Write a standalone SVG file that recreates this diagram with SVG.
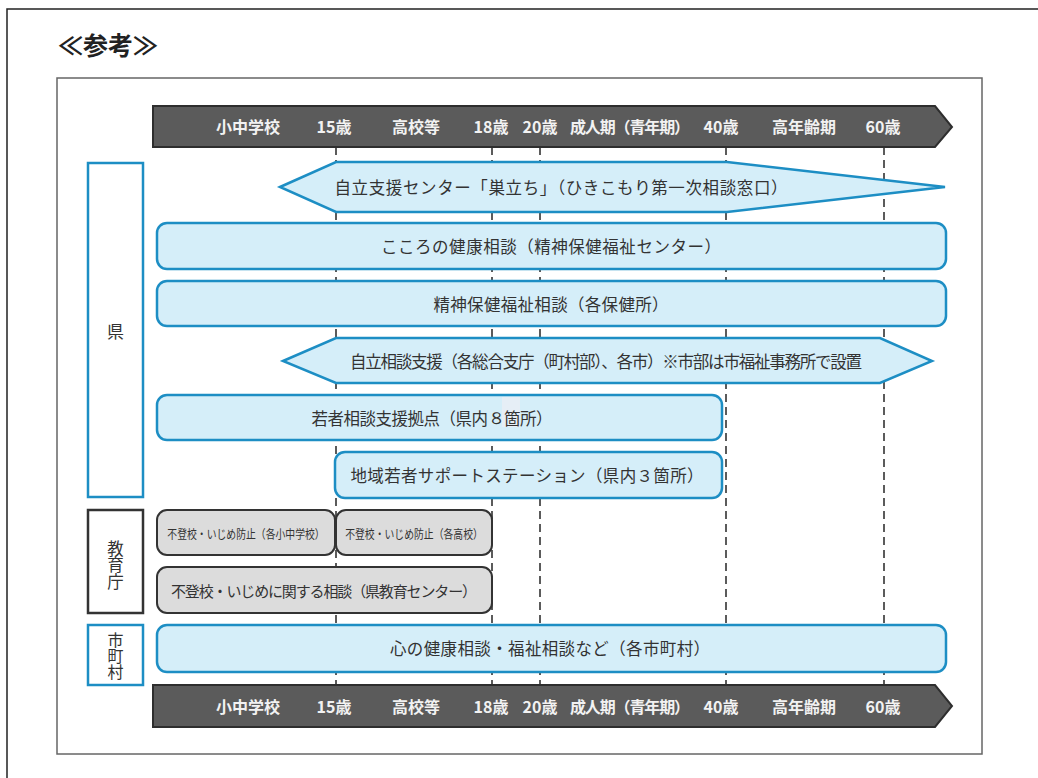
<svg xmlns="http://www.w3.org/2000/svg" width="1038" height="778" viewBox="0 0 1038 778">
<style>
text{font-family:"Noto Sans CJK JP","Noto Sans",sans-serif;fill:#333;dominant-baseline:central;text-anchor:middle}
.bar{fill:#5b5b5b;stroke:#2e2e2e;stroke-width:2}
.bt{fill:#f2f2f2;font-size:16px;font-weight:bold}
.blue{fill:#d5eef9;stroke:#1d8ec4;stroke-width:2.5}
.grey{fill:#dcdcdc;stroke:#333;stroke-width:2}
.cat{fill:#fff;stroke:#1d8ec4;stroke-width:2.5}
.catk{fill:#fff;stroke:#333;stroke-width:2.5}
.lbl{font-size:16.5px}
.small{font-size:12.3px}
.vert{writing-mode:vertical-rl;font-size:16.5px}
.guide{stroke:#333;stroke-width:1.6;stroke-dasharray:8 5;fill:none}
</style>
<rect x="0" y="0" width="1038" height="778" fill="#fff"/>
<rect x="7" y="9" width="1045" height="790" fill="none" stroke="#222" stroke-width="1.5"/>
<text x="58" y="44" style="font-size:25px;font-weight:bold;text-anchor:start;fill:#222">≪参考≫</text>
<rect x="57" y="78" width="925" height="676" fill="#fff" stroke="#666" stroke-width="1.5"/>

<g id="connectors">
<line class="guide" x1="336" y1="147" x2="336" y2="686"/>
<line class="guide" x1="492" y1="147" x2="492" y2="686"/>
<line class="guide" x1="540" y1="147" x2="540" y2="686"/>
<line class="guide" x1="726" y1="147" x2="726" y2="686"/>
<line class="guide" x1="884" y1="147" x2="884" y2="686"/>
</g>

<g id="timeline-top">
<polygon class="bar" points="153,106 935,106 952,127 935,147 153,147"/>
<text class="bt" x="248" y="126">小中学校</text>
<text class="bt" x="334" y="126">15歳</text>
<text class="bt" x="416" y="126">高校等</text>
<text class="bt" x="491" y="126">18歳</text>
<text class="bt" x="540" y="126">20歳</text>
<text class="bt" x="630" y="126" textLength="120">成人期（青年期）</text>
<text class="bt" x="721" y="126">40歳</text>
<text class="bt" x="804" y="126">高年齢期</text>
<text class="bt" x="883" y="126">60歳</text>
</g>

<g id="timeline-bottom">
<polygon class="bar" points="153,685 935,685 952,706 935,727 153,727"/>
<text class="bt" x="248" y="706">小中学校</text>
<text class="bt" x="334" y="706">15歳</text>
<text class="bt" x="416" y="706">高校等</text>
<text class="bt" x="491" y="706">18歳</text>
<text class="bt" x="540" y="706">20歳</text>
<text class="bt" x="630" y="706" textLength="120">成人期（青年期）</text>
<text class="bt" x="721" y="706">40歳</text>
<text class="bt" x="804" y="706">高年齢期</text>
<text class="bt" x="883" y="706">60歳</text>
</g>

<g id="cat-ken">
<rect class="cat" x="88" y="163" width="55" height="334"/>
<text x="115.5" y="330" style="font-size:17px">県</text>
</g>
<g id="cat-kyoiku">
<rect class="catk" x="88" y="510" width="55" height="103"/>
<text class="vert" x="115.5" y="565">教育庁</text>
</g>
<g id="cat-shichoson">
<rect class="cat" x="88" y="625" width="55" height="60"/>
<text class="vert" x="115.5" y="656" style="font-size:16px">市町村</text>
</g>

<g id="n1">
<polygon class="blue" points="280,187 336,162 727,162 945,187 727,212 336,212"/>
<text class="lbl" x="561" y="187" textLength="453">自立支援センター「巣立ち」（ひきこもり第一次相談窓口）</text>
</g>
<g id="n2">
<rect class="blue" x="157" y="223" width="789" height="46" rx="10"/>
<text class="lbl" x="551" y="246" textLength="340">こころの健康相談（精神保健福祉センター）</text>
</g>
<g id="n3">
<rect class="blue" x="157" y="281" width="789" height="45" rx="10"/>
<text class="lbl" x="551" y="304" textLength="235">精神保健福祉相談（各保健所）</text>
</g>
<g id="n4">
<polygon class="blue" points="283,361 336,338 880,338 932,361 880,383 336,383"/>
<text class="lbl" x="606" y="361" textLength="512">自立相談支援（各総合支庁（町村部）、各市）※市部は市福祉事務所で設置</text>
</g>
<g id="n5">
<rect class="blue" x="157" y="395" width="565" height="45" rx="10"/>
<rect x="502" y="397" width="18" height="30" fill="#e6eef6"/>
<text class="lbl" x="432" y="418" textLength="241">若者相談支援拠点（県内<tspan style="font-family:'DejaVu Sans',sans-serif;font-weight:300">８</tspan>箇所）</text>
</g>
<g id="n6">
<rect class="blue" x="335" y="452" width="387" height="46" rx="10"/>
<text class="lbl" x="527" y="475" textLength="353">地域若者サポートステーション（県内３箇所）</text>
</g>
<g id="n7">
<rect class="grey" x="157" y="510" width="178" height="45" rx="10"/>
<text class="small" transform="translate(246,533) scale(0.8,1)">不登校・いじめ防止（各小中学校）</text>
</g>
<g id="n8">
<rect class="grey" x="336" y="510" width="156" height="45" rx="10"/>
<text class="small" transform="translate(414,533) scale(0.8,1)">不登校・いじめ防止（各高校）</text>
</g>
<g id="n9">
<rect class="grey" x="157" y="567" width="335" height="46" rx="10"/>
<text x="324" y="590" style="font-size:15px" textLength="306">不登校・いじめに関する相談（県教育センター）</text>
</g>
<g id="n10">
<rect class="blue" x="157" y="625" width="789" height="47" rx="10"/>
<text class="lbl" x="550" y="648" textLength="320">心の健康相談・福祉相談など（各市町村）</text>
</g>
</svg>
